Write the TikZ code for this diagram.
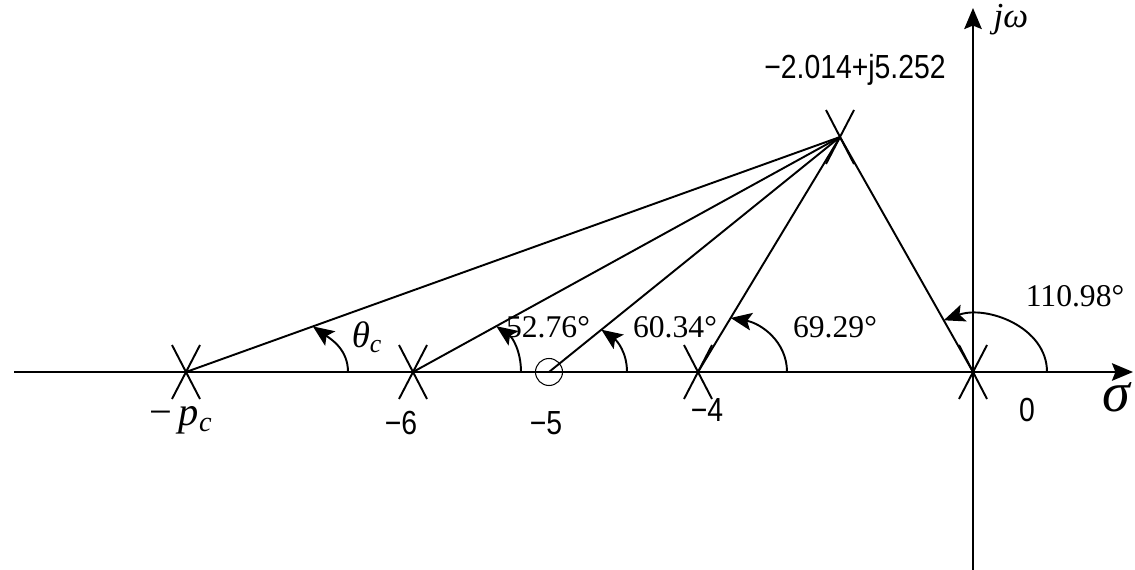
\documentclass[tikz,border=0pt]{standalone}
\usepackage{fontspec}
\setmainfont{Liberation Serif}
\newfontfamily\lsans[FakeStretch=0.85]{Liberation Sans}
\usetikzlibrary{arrows.meta,calc}
\begin{document}
\begin{tikzpicture}[x=0.02cm,y=-0.02cm,
  ax/.style={line width=1.1pt,-{Stealth[length=12pt,width=10pt,inset=2pt]}},
  ln/.style={line width=1.1pt},
  ang/.style={line width=1.1pt,-{Stealth[length=12pt,width=10pt,inset=2.5pt]}},
  num/.style={font=\fontsize{18}{20}\selectfont, inner sep=0},
  lab/.style={font=\lsans\fontsize{19}{21}\selectfont, inner sep=0},
  pt/.style={inner sep=0,outer sep=0,minimum size=0}]
\tikzset{cross/.pic={\draw[line width=1.1pt] (-14,-27)--(14,27) (14,-27)--(-14,27);}}
\useasboundingbox (0,0) rectangle (1135,570);
% axes
\coordinate (xl) at (14,372); \coordinate (xr) at (1133,372);
\coordinate (yb) at (973,570); \coordinate (yt) at (973,8);
\draw[ax] (xl) -- (xr);
\draw[ax] (yb) -- (yt);
% poles and zero
\node[pt] (o) at (973,372) {};
\node[pt] (pc) at (186,372) {};
\node[pt] (m6) at (413,372) {};
\node[pt] (m4) at (698,372) {};
\node[pt] (top) at (840,137) {};
\node[circle,draw,line width=0.6pt,minimum size=0.54cm,inner sep=0] (z5) at (549,372) {};
\pic at (o) {cross};
\pic at (pc) {cross};
\pic at (m6) {cross};
\pic at (m4) {cross};
\pic at (top) {cross};
% lines
\draw[ln] (top.center) -- (pc.center);
\draw[ln] (top.center) -- (m6.center);
\draw[ln] (top.center) -- (z5.center);
\draw[ln] (top.center) -- (m4.center);
\draw[ln] (top.center) -- (o.center);
% angle arcs
\coordinate (s1) at (348,372); \coordinate (t1) at ($(pc)!0.194!(top)$);
\coordinate (s2) at (521,372); \coordinate (t2) at ($(m6)!0.195!(top)$);
\coordinate (s3) at (627,372); \coordinate (t3) at ($(z5.center)!0.18!(top)$);
\coordinate (s4) at (787,372); \coordinate (t4) at ($(m4)!0.23!(top)$);
\coordinate (s5) at (1047,372); \coordinate (t5) at ($(o)!0.22!(top)$);
\draw[ang] (s1) to[out=90,in=-35] (t1);
\draw[ang] (s2) to[out=90,in=-35] (t2);
\draw[ang] (s3) to[out=90,in=-35] (t3);
\draw[ang] (s4) to[out=90,in=-10] (t4);
\draw[ang] (s5) to[out=90,in=20] (t5);
% labels
\node[lab] (cpl) at (855,70) {−2.014+j5.252};
\node[num,font=\fontsize{20}{22}\selectfont] (jw) at (1011,20) {\itshape jω};
\node[inner sep=0,font=\fontsize{32}{34}\selectfont] (sig) at (1116,397) {\itshape σ};
\node[num,font=\fontsize{23}{25}\selectfont] (pcl) at (181,420) {−\,{\itshape p}\textsubscript{\itshape c}};
\node[lab] (l6) at (401,423) {−6};
\node[lab] (l5) at (546,423) {−5};
\node[lab] (l4) at (707,410) {−4};
\node[lab] (l0) at (1027,410) {0};
\node[num,font=\fontsize{21}{22}\selectfont] (th) at (367,337) {\itshape θ\textsubscript{c}};
\node[num] (a2) at (548,327) {52.76°};
\node[num] (a3) at (675,327) {60.34°};
\node[num] (a4) at (835,327) {69.29°};
\node[num] (a5) at (1075,296) {110.98°};
\end{tikzpicture}
\end{document}
